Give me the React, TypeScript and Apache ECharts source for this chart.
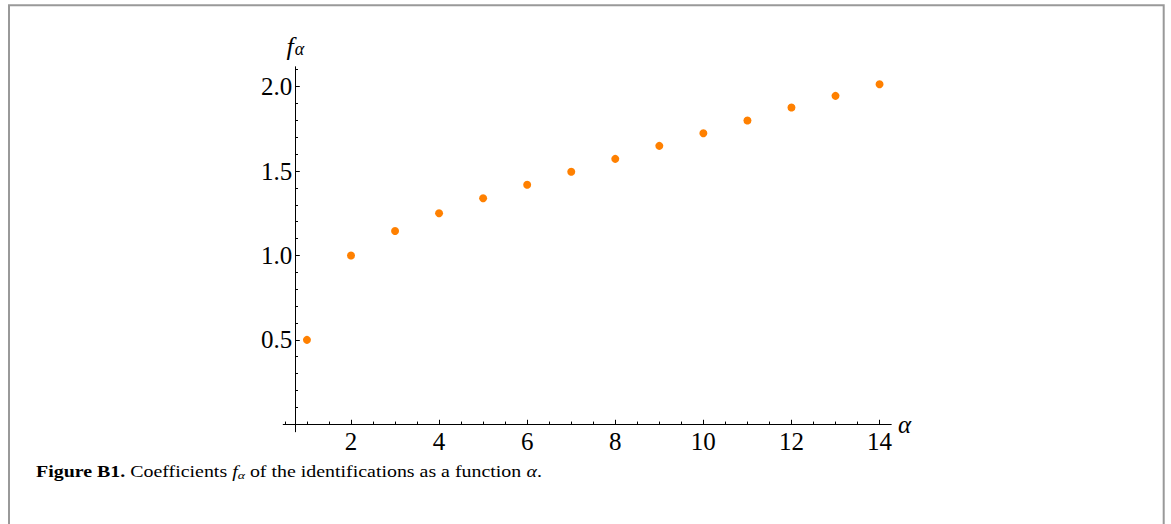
import { useEffect, useRef } from "react";
import * as echarts from "echarts";

// Coefficients f_alpha for alpha = 1..14
const alphaValues = [1, 2, 3, 4, 5, 6, 7, 8, 9, 10, 11, 12, 13, 14];
const fAlphaValues = [
  0.5, 1.0, 1.145, 1.25, 1.339, 1.419, 1.496, 1.572, 1.649, 1.724, 1.799,
  1.876, 1.945, 2.014,
];

// Tick positions
const xMajorTicks = [2, 4, 6, 8, 10, 12, 14];
const xMinorTicks = [
  0.5, 1, 1.5, 2, 2.5, 3, 3.5, 4, 4.5, 5, 5.5, 6, 6.5, 7, 7.5, 8, 8.5, 9,
  9.5, 10, 10.5, 11, 11.5, 12, 12.5, 13, 13.5, 14,
];
const yMajorTicks = [0.5, 1.0, 1.5, 2.0];
const yMinorTicks = [
  0.1, 0.2, 0.3, 0.4, 0.5, 0.6, 0.7, 0.8, 0.9, 1.0, 1.1, 1.2, 1.3, 1.4, 1.5,
  1.6, 1.7, 1.8, 1.9, 2.0, 2.1,
];

const SERIF = "Liberation Serif";

export default function App() {
  const ref = useRef<HTMLDivElement>(null);

  useEffect(() => {
    if (!ref.current) return;
    const chart = echarts.init(ref.current, null, { renderer: "svg" });

    const xMin = 0.463;
    const xMax = 14.26;
    const yMin = -0.044;
    const yMax = 2.116;

    const tickLine = { color: "#000", width: 1 };
    const labelStyle = { fontFamily: SERIF, fontSize: 25, color: "#000" };

    chart.setOption({
      animation: false,
      backgroundColor: "#fff",
      grid: { left: 283.3, right: 280, top: 67, bottom: 92.3 },
      xAxis: [
        {
          type: "value",
          min: xMin,
          max: xMax,
          position: "bottom",
          axisLine: { show: true, onZero: true, lineStyle: tickLine },
          axisTick: {
            show: true,
            inside: true,
            length: 4.5,
            customValues: xMajorTicks,
            lineStyle: tickLine,
          },
          axisLabel: {
            ...labelStyle,
            customValues: xMajorTicks,
            margin: -3,
          },
          splitLine: { show: false },
          name: "α",
          nameLocation: "end",
          nameGap: 7,
          nameTextStyle: {
            fontFamily: SERIF,
            fontStyle: "italic",
            fontSize: 25,
            color: "#000",
          },
        },
        {
          type: "value",
          min: xMin,
          max: xMax,
          position: "bottom",
          axisLine: { show: true, onZero: true, lineStyle: tickLine },
          axisTick: {
            show: true,
            inside: true,
            length: 2.7,
            customValues: xMinorTicks,
            lineStyle: tickLine,
          },
          axisLabel: { show: false },
          splitLine: { show: false },
        },
      ],
      yAxis: [
        {
          type: "value",
          min: yMin,
          max: yMax,
          position: "left",
          offset: -12,
          axisLine: { show: true, onZero: false, lineStyle: tickLine },
          axisTick: {
            show: true,
            inside: true,
            length: 4.5,
            customValues: yMajorTicks,
            lineStyle: tickLine,
          },
          axisLabel: {
            ...labelStyle,
            customValues: yMajorTicks,
            margin: 3,
            formatter: (v: number) => v.toFixed(1),
          },
          splitLine: { show: false },
          name: "{f|f}{a|α}",
          nameLocation: "end",
          nameGap: 8,
          nameTextStyle: {
            rich: {
              f: {
                fontFamily: SERIF,
                fontStyle: "italic",
                fontSize: 26,
                color: "#000",
              },
              a: {
                fontFamily: SERIF,
                fontStyle: "italic",
                fontSize: 18,
                color: "#000",
                padding: [6, 0, 0, 1],
              },
            },
          },
        },
        {
          type: "value",
          min: yMin,
          max: yMax,
          position: "left",
          offset: -12,
          axisLine: { show: true, onZero: false, lineStyle: tickLine },
          axisTick: {
            show: true,
            inside: true,
            length: 2.7,
            customValues: yMinorTicks,
            lineStyle: tickLine,
          },
          axisLabel: { show: false },
          splitLine: { show: false },
        },
      ],
      series: [
        {
          type: "scatter",
          xAxisIndex: 0,
          yAxisIndex: 0,
          symbol: "circle",
          symbolSize: 8,
          itemStyle: { color: "#FF8000", opacity: 1 },
          data: alphaValues.map((a, i) => [a, fAlphaValues[i]]),
        },
      ],
      graphic: [
        {
          type: "rect",
          silent: true,
          shape: { x: 9, y: 5.3, width: 1154.7, height: 560 },
          style: { fill: "none", stroke: "#999", lineWidth: 2 },
        },
        {
          type: "text",
          silent: true,
          x: 36,
          y: 472,
          scaleX: 1.245,
          style: {
            text:
              "{b|Figure B1.}{r| Coefficients }{i|f}{s|α}{r| of the identifications as a function }{i|α}{r|.}",
            fontFamily: SERIF,
            fontSize: 16,
            fill: "#000",
            verticalAlign: "middle",
            rich: {
              b: { fontFamily: SERIF, fontSize: 16, fontWeight: "bold", fill: "#000" },
              r: { fontFamily: SERIF, fontSize: 16, fill: "#000" },
              i: { fontFamily: SERIF, fontSize: 16, fontStyle: "italic", fill: "#000" },
              s: {
                fontFamily: SERIF,
                fontSize: 11,
                fontStyle: "italic",
                fill: "#000",
                padding: [6, 0, 0, 0],
              },
            },
          },
        },
      ],
    });

    return () => chart.dispose();
  }, []);

  return (
    <div
      ref={ref}
      style={{ position: "absolute", left: 0, top: 0, width: 1171, height: 524 }}
    />
  );
}
